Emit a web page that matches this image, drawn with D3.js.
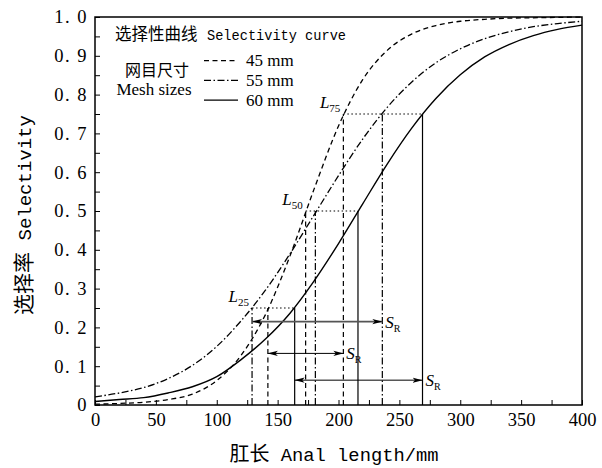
<!DOCTYPE html>
<html>
<head>
<meta charset="utf-8">
<script src="https://cdn.jsdelivr.net/npm/d3@7"></script>
<style>
  html, body { margin: 0; padding: 0; background: #fff; }
  svg { display: block; }
</style>
</head>
<body>
<svg id="chart" width="602" height="468"></svg>
<script>
// Data
// ----
// anal length (mm) at which the selectivity curves were read
const lengths = [0, 20, 40, 60, 80, 100, 120, 140, 160, 180, 200,
                 220, 240, 260, 280, 300, 320, 340, 360, 380, 400];

// selectivity per mesh size
const sel45 = [0.002, 0.004, 0.007, 0.014, 0.028, 0.063, 0.128, 0.233, 0.383, 0.557, 0.719,
               0.839, 0.914, 0.956, 0.978, 0.989, 0.994, 0.997, 0.998, 0.999, 1.000];
const sel55 = [0.021, 0.031, 0.045, 0.068, 0.102, 0.151, 0.217, 0.296, 0.389, 0.490, 0.591,
               0.686, 0.767, 0.832, 0.882, 0.918, 0.944, 0.962, 0.975, 0.983, 0.989];
const sel60 = [0.009, 0.014, 0.019, 0.031, 0.047, 0.073, 0.117, 0.170, 0.236, 0.320, 0.416,
               0.519, 0.621, 0.713, 0.790, 0.851, 0.897, 0.929, 0.952, 0.968, 0.979];

const meshSizes = ["45 mm", "55 mm", "60 mm"];

// L25, L50, L75 for each mesh size
const levels = [0.25, 0.5, 0.75];
const levelNames = ["25", "50", "75"];
const L45 = [142, 173, 204];
const L55 = [129, 181, 236];
const L60 = [164, 216, 269];

// selectivity level where each S_R arrow is drawn (45, 55, 60 mm)
const srArrowY = [0.133, 0.215, 0.064];

const xTicks = d3.range(0, 401, 25);
const yTicks = d3.range(0, 21).map(i => i / 20);

// Styles
// ------
const dashes = ["5,3.5", "7,2.5,1.5,2.5", null];
const curveSeries = [sel45, sel55, sel60];
const lValues = [L45, L55, L60];

const serif = "'Liberation Serif', 'Times New Roman', serif";
const mono = "'Liberation Mono', 'DejaVu Sans Mono', monospace";
const cjk = "'Noto Sans CJK SC', sans-serif";

// Layout
// ------
const svg = d3.select("#chart");
const plotLeft = 95, plotRight = 582, plotTop = 17, plotBottom = 405;

const x = d3.scaleLinear().domain([0, 400]).range([plotLeft, plotRight]);
const y = d3.scaleLinear().domain([0, 1]).range([plotBottom, plotTop]);

// arrow head marker
svg.append("defs").append("marker")
	.attr("id", "head")
	.attr("viewBox", "0 0 10 6")
	.attr("refX", 10).attr("refY", 3)
	.attr("markerWidth", 10).attr("markerHeight", 6)
	.attr("markerUnits", "userSpaceOnUse")
	.attr("orient", "auto-start-reverse")
	.append("path")
	.attr("d", "M0,0.4 L10,3 L0,5.6 L2.5,3 Z")
	.attr("fill", "#000");

// Axes (ticks point inward)
const xAxis = d3.axisBottom(x)
	.tickValues(xTicks)
	.tickSize(-5)
	.tickPadding(8)
	.tickFormat(d => d % 50 === 0 ? d : "");
const gx = svg.append("g")
	.attr("transform", `translate(0,${plotBottom})`)
	.call(xAxis);
gx.select(".domain").remove();
gx.selectAll("text")
	.attr("font-family", serif)
	.attr("font-size", 18.5)
	.attr("fill", "#000");

const yAxis = d3.axisLeft(y)
	.tickValues(yTicks)
	.tickSize(-5)
	.tickPadding(7)
	.tickFormat(d => {
		const i = Math.round(d * 20);
		if (i % 2 !== 0) return "";
		return i === 0 ? "0" : d.toFixed(1).replace(".", ". ");
	});
const gy = svg.append("g")
	.attr("transform", `translate(${plotLeft},0)`)
	.call(yAxis);
gy.select(".domain").remove();
gy.selectAll("text")
	.attr("font-family", serif)
	.attr("font-size", 18.5)
	.attr("letter-spacing", "1.5px")
	.style("white-space", "pre")
	.attr("fill", "#000");

// frame
svg.append("rect")
	.attr("x", plotLeft).attr("y", plotTop)
	.attr("width", plotRight - plotLeft).attr("height", plotBottom - plotTop)
	.attr("fill", "none")
	.attr("stroke", "#000")
	.attr("stroke-width", 1.5);

// Reference lines at L25 / L50 / L75
const refs = svg.append("g").attr("fill", "none").attr("stroke", "#000");

// dotted horizontal lines joining the three mesh sizes at each level
levels.forEach((lv, j) => {
	const xs = lValues.map(L => L[j]);
	refs.append("line")
		.attr("x1", x(d3.min(xs))).attr("x2", x(d3.max(xs)))
		.attr("y1", y(lv)).attr("y2", y(lv))
		.attr("stroke-width", 1.2)
		.attr("stroke-dasharray", "1.5,2.5");
});

// verticals from the axis up to the curve
lValues.forEach((L, s) => {
	L.forEach((v, j) => {
		refs.append("line")
			.attr("x1", x(v)).attr("x2", x(v))
			.attr("y1", y(0)).attr("y2", y(levels[j]))
			.attr("stroke-width", 1.2)
			.attr("stroke-dasharray", dashes[s]);
	});
});

// Selectivity curves
const line = d3.line()
	.x((d, i) => x(lengths[i]))
	.y(d => y(d))
	.curve(d3.curveMonotoneX);

curveSeries.forEach((vals, s) => {
	svg.append("path")
		.datum(vals)
		.attr("d", line)
		.attr("fill", "none")
		.attr("stroke", "#000")
		.attr("stroke-width", s === 2 ? 1.4 : 1.3)
		.attr("stroke-dasharray", dashes[s]);
});

// S_R arrows (L25 -> L75)
lValues.forEach((L, s) => {
	const yy = y(srArrowY[s]);
	svg.append("line")
		.attr("x1", x(L[0])).attr("x2", x(L[2]))
		.attr("y1", yy).attr("y2", yy)
		.attr("stroke", s === 1 ? "#555" : "#000")
		.attr("stroke-width", s === 1 ? 1.6 : 1)
		.attr("marker-start", "url(#head)")
		.attr("marker-end", "url(#head)");

	const t = svg.append("text")
		.attr("x", x(L[2]) + 3)
		.attr("y", yy + 6)
		.attr("font-family", serif)
		.attr("fill", "#000");
	t.append("tspan").attr("font-size", 17).attr("font-style", "italic").text("S");
	t.append("tspan").attr("font-size", 10).attr("dy", 4).text("R");
});

// L labels beside the leftmost point of each level
levels.forEach((lv, j) => {
	const xs = lValues.map(L => L[j]);
	const t = svg.append("text")
		.attr("x", x(d3.min(xs)) - 3)
		.attr("y", y(lv) - 6)
		.attr("text-anchor", "end")
		.attr("font-family", serif)
		.attr("fill", "#000");
	t.append("tspan").attr("font-size", 17).attr("font-style", "italic").text("L");
	t.append("tspan").attr("font-size", 11).attr("dy", 4).text(levelNames[j]);
});

// Legend
const legend = svg.append("g").attr("fill", "#000");

legend.append("text")
	.attr("x", 115).attr("y", 40)
	.attr("font-family", cjk).attr("font-size", 16.5)
	.text("选择性曲线");
legend.append("text")
	.attr("x", 207).attr("y", 40)
	.attr("font-family", mono).attr("font-size", 15)
	.attr("textLength", 139)
	.attr("lengthAdjust", "spacingAndGlyphs")
	.text("Selectivity curve");

legend.append("text")
	.attr("x", 157).attr("y", 76)
	.attr("text-anchor", "middle")
	.attr("font-family", cjk).attr("font-size", 16)
	.text("网目尺寸");
legend.append("text")
	.attr("x", 154).attr("y", 95)
	.attr("text-anchor", "middle")
	.attr("font-family", serif).attr("font-size", 17)
	.text("Mesh sizes");

meshSizes.forEach((m, s) => {
	const ly = 60.7 + s * 19.7;
	legend.append("line")
		.attr("x1", 204).attr("x2", 238)
		.attr("y1", ly).attr("y2", ly)
		.attr("stroke", "#000")
		.attr("stroke-width", 1.3)
		.attr("stroke-dasharray", dashes[s]);
	legend.append("text")
		.attr("x", 246).attr("y", ly + 5.5)
		.attr("font-family", serif).attr("font-size", 17)
		.text(m);
});

// Axis titles
const xt = svg.append("text")
	.attr("x", 334).attr("y", 461)
	.attr("text-anchor", "middle")
	.attr("fill", "#000");
xt.append("tspan").attr("font-family", cjk).attr("font-size", 20).text("肛长");
xt.append("tspan").attr("font-family", mono).attr("font-size", 18.8).text(" Anal length/mm");

const yt = svg.append("text")
	.attr("transform", "translate(31,215) rotate(-90)")
	.attr("text-anchor", "middle")
	.attr("fill", "#000");
yt.append("tspan").attr("font-family", cjk).attr("font-size", 21).text("选择率");
yt.append("tspan").attr("font-family", mono).attr("font-size", 19).text(" Selectivity");
</script>
</body>
</html>
